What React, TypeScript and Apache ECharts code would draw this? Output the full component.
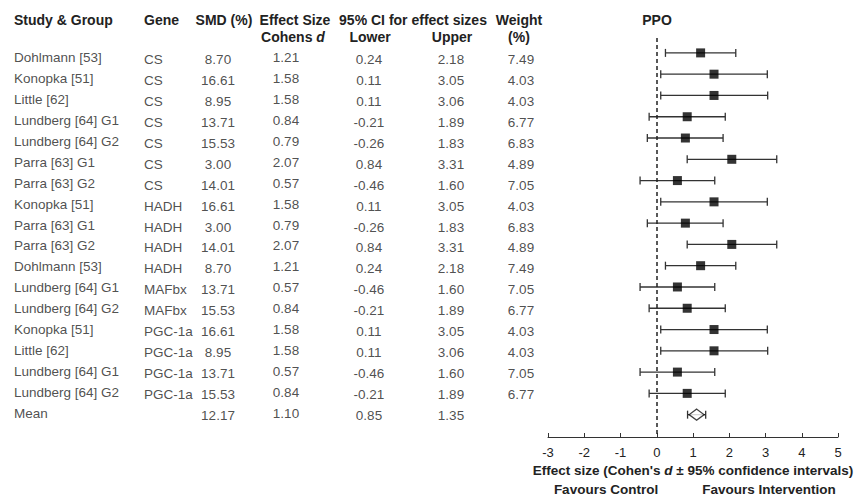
import React, { useEffect, useRef } from "react";
import * as echarts from "echarts";

const studies = [
  "Dohlmann [53]", "Konopka [51]", "Little [62]", "Lundberg [64] G1", "Lundberg [64] G2",
  "Parra [63] G1", "Parra [63] G2", "Konopka [51]", "Parra [63] G1", "Parra [63] G2",
  "Dohlmann [53]", "Lundberg [64] G1", "Lundberg [64] G2", "Konopka [51]", "Little [62]",
  "Lundberg [64] G1", "Lundberg [64] G2", "Mean",
];
const genes = [
  "CS", "CS", "CS", "CS", "CS", "CS", "CS", "HADH", "HADH", "HADH", "HADH",
  "MAFbx", "MAFbx", "PGC-1a", "PGC-1a", "PGC-1a", "PGC-1a", "",
];
const smd = [8.70, 16.61, 8.95, 13.71, 15.53, 3.00, 14.01, 16.61, 3.00, 14.01, 8.70, 13.71, 15.53, 16.61, 8.95, 13.71, 15.53, 12.17];
const effect = [1.21, 1.58, 1.58, 0.84, 0.79, 2.07, 0.57, 1.58, 0.79, 2.07, 1.21, 0.57, 0.84, 1.58, 1.58, 0.57, 0.84, 1.10];
const lower = [0.24, 0.11, 0.11, -0.21, -0.26, 0.84, -0.46, 0.11, -0.26, 0.84, 0.24, -0.46, -0.21, 0.11, 0.11, -0.46, -0.21, 0.85];
const upper = [2.18, 3.05, 3.06, 1.89, 1.83, 3.31, 1.60, 3.05, 1.83, 3.31, 2.18, 1.60, 1.89, 3.05, 3.06, 1.60, 1.89, 1.35];
const weight: (number | null)[] = [7.49, 4.03, 4.03, 6.77, 6.83, 4.89, 7.05, 4.03, 6.83, 4.89, 7.49, 7.05, 6.77, 4.03, 4.03, 7.05, 6.77, null];
const xTicks = [-3, -2, -1, 0, 1, 2, 3, 4, 5];

const FONT = "Liberation Sans, Arial, sans-serif";
const TXT = "#222";

export default function App() {
  const ref = useRef<HTMLDivElement>(null);
  useEffect(() => {
    if (!ref.current) return;
    const chart = echarts.init(ref.current, undefined, { renderer: "svg" });
    const n = studies.length;
    const meanIdx = n - 1;

    const colSeries = (
      xPos: number,
      texts: string[],
      align: "left" | "center",
      dy: number
    ) => ({
      type: "scatter",
      xAxisIndex: 1,
      yAxisIndex: 1,
      silent: true,
      symbolSize: 0,
      data: texts.map((t, i) => ({ value: [xPos, i], name: t })),
      label: {
        show: true,
        position: [0, dy],
        align,
        verticalAlign: "middle",
        formatter: (p: any) => p.name,
        fontFamily: FONT,
        fontSize: 13.5,
        color: TXT,
      },
    });

    const option: any = {
      animation: false,
      textStyle: { fontFamily: FONT },
      grid: [
        { left: 548, right: 21, top: 38, bottom: 60 },
        { left: 0, right: 0, top: 39, bottom: 61 },
      ],
      xAxis: [
        {
          type: "value",
          gridIndex: 0,
          min: xTicks[0],
          max: xTicks[xTicks.length - 1],
          interval: 1,
          splitLine: { show: false },
          axisLine: { show: true, onZero: false, lineStyle: { color: "#333", width: 1 } },
          axisTick: { show: true, inside: true, length: 4, lineStyle: { color: "#333" } },
          axisLabel: { fontSize: 13, color: TXT, margin: 9, fontFamily: FONT },
          name: "Effect size (Cohen's {i|d} ± 95% confidence intervals)",
          nameLocation: "middle",
          nameGap: 25,
          nameTextStyle: {
            fontSize: 13.5,
            fontWeight: "bold",
            color: TXT,
            fontFamily: FONT,
            rich: {
              i: { fontSize: 13.5, fontWeight: "bold", fontStyle: "italic", color: TXT, fontFamily: FONT },
            },
          },
        },
        { type: "value", gridIndex: 1, min: 0, max: 859, show: false },
      ],
      yAxis: [
        { type: "value", gridIndex: 0, inverse: true, min: -0.7, max: 18.05, show: false },
        { type: "value", gridIndex: 1, inverse: true, min: -1, max: 18, show: false },
      ],
      graphic: [
        { type: "text", left: 14, top: 13, style: { text: "Study & Group", font: `bold 14px ${FONT}`, fill: TXT } },
        { type: "text", left: 144, top: 13, style: { text: "Gene", font: `bold 14px ${FONT}`, fill: TXT } },
        { type: "text", x: 224, y: 20, style: { text: "SMD (%)", font: `bold 14px ${FONT}`, fill: TXT, align: "center", verticalAlign: "middle" } },
        { type: "text", x: 295, y: 20, style: { text: "Effect Size", font: `bold 14px ${FONT}`, fill: TXT, align: "center", verticalAlign: "middle" } },
        {
          type: "text", x: 293, y: 37,
          style: {
            text: "{b|Cohens }{i|d}", align: "center", verticalAlign: "middle",
            rich: {
              b: { font: `bold 14px ${FONT}`, fill: TXT },
              i: { font: `italic bold 14px ${FONT}`, fill: TXT },
            },
          },
        },
        { type: "text", x: 413, y: 20, style: { text: "95% CI for effect sizes", font: `bold 14px ${FONT}`, fill: TXT, align: "center", verticalAlign: "middle" } },
        { type: "text", x: 370, y: 37, style: { text: "Lower", font: `bold 14px ${FONT}`, fill: TXT, align: "center", verticalAlign: "middle" } },
        { type: "text", x: 452, y: 37, style: { text: "Upper", font: `bold 14px ${FONT}`, fill: TXT, align: "center", verticalAlign: "middle" } },
        { type: "text", x: 519, y: 20, style: { text: "Weight", font: `bold 14px ${FONT}`, fill: TXT, align: "center", verticalAlign: "middle" } },
        { type: "text", x: 519, y: 37, style: { text: "(%)", font: `bold 14px ${FONT}`, fill: TXT, align: "center", verticalAlign: "middle" } },
        { type: "text", x: 657, y: 20, style: { text: "PPO", font: `bold 14px ${FONT}`, fill: TXT, align: "center", verticalAlign: "middle" } },
        { type: "text", x: 606, y: 489, style: { text: "Favours Control", font: `bold 13.5px ${FONT}`, fill: TXT, align: "center", verticalAlign: "middle" } },
        { type: "text", x: 769, y: 489, style: { text: "Favours Intervention", font: `bold 13.5px ${FONT}`, fill: TXT, align: "center", verticalAlign: "middle" } },
      ],
      series: [
        {
          type: "custom",
          xAxisIndex: 0,
          yAxisIndex: 0,
          silent: true,
          data: lower.map((lo, i) => [lo, upper[i], i]),
          renderItem: (params: any, api: any) => {
            const a = api.coord([api.value(0), api.value(2)]);
            const b = api.coord([api.value(1), api.value(2)]);
            const h = 4;
            const st = { stroke: "#333", lineWidth: 1.3 };
            return {
              type: "group",
              children: [
                { type: "line", shape: { x1: a[0], y1: a[1], x2: b[0], y2: b[1] }, style: st },
                { type: "line", shape: { x1: a[0], y1: a[1] - h, x2: a[0], y2: a[1] + h }, style: st },
                { type: "line", shape: { x1: b[0], y1: b[1] - h, x2: b[0], y2: b[1] + h }, style: st },
              ],
            };
          },
        },
        {
          type: "scatter",
          xAxisIndex: 0,
          yAxisIndex: 0,
          silent: true,
          symbol: "rect",
          symbolSize: 9,
          itemStyle: { color: "#000" },
          data: effect.slice(0, meanIdx).map((e, i) => [e, i]),
          markLine: {
            silent: true,
            symbol: "none",
            label: { show: false },
            lineStyle: { color: "#222", type: [4, 3], width: 1.5 },
            data: [{ xAxis: 0 }],
          },
        },
        {
          type: "scatter",
          xAxisIndex: 0,
          yAxisIndex: 0,
          silent: true,
          symbol: "diamond",
          symbolSize: [15, 11],
          itemStyle: { color: "#fff", borderColor: "#111", borderWidth: 1.3 },
          data: [[effect[meanIdx], meanIdx]],
        },
        colSeries(14, studies, "left", -2),
        colSeries(144, genes, "left", 0),
        colSeries(218, smd.map((v) => v.toFixed(2)), "center", 0),
        colSeries(286, effect.map((v) => v.toFixed(2)), "center", -2),
        colSeries(369, lower.map((v) => v.toFixed(2)), "center", 0),
        colSeries(451, upper.map((v) => v.toFixed(2)), "center", 0),
        colSeries(521, weight.map((v) => (v == null ? "" : v.toFixed(2))), "center", 0),
      ],
    };
    chart.setOption(option);
    return () => chart.dispose();
  }, []);
  return (
    <div
      ref={ref}
      style={{ position: "fixed", left: 0, top: 0, width: 859, height: 497, background: "#fff" }}
    />
  );
}
